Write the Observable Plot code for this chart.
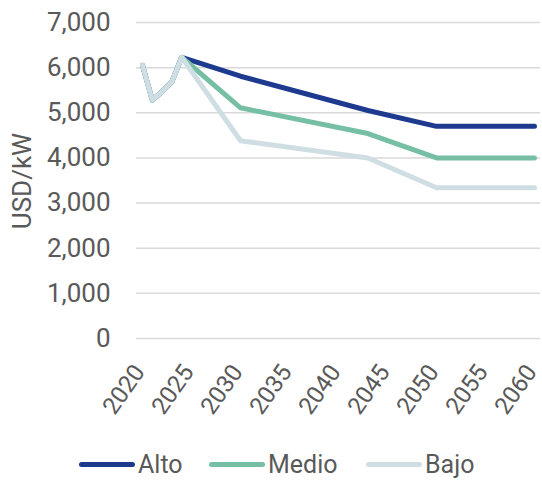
<!DOCTYPE html>
<html><head><meta charset="utf-8">
<script src="https://cdn.jsdelivr.net/npm/d3@7"></script>
<script src="https://cdn.jsdelivr.net/npm/@observablehq/plot@0.6"></script>
<style>
body{margin:0;background:#fff;font-family:Roboto,sans-serif;}
#legend{position:relative;height:40px;width:542px;font-size:25px;color:#595959;}
.item{position:absolute;top:0;height:40px;display:flex;align-items:center;white-space:nowrap;}
.sw{display:inline-block;width:56px;min-width:56px;height:5px;border-radius:3px;margin-right:3px;}
</style></head><body>
<div id="chart"></div><div id="legend"></div>
<script>
const years = [2020, 2021, 2022, 2023, 2024, 2030, 2043, 2050, 2060];
const alto  = [6050, 5280, 5470, 5690, 6230, 5810, 5050, 4700, 4700];
const medio = [6050, 5280, 5470, 5690, 6230, 5110, 4540, 4000, 4000];
const bajo  = [6050, 5280, 5470, 5690, 6230, 4380, 4000, 3340, 3340];
const series = ["Alto", "Medio", "Bajo"];
const colors = ["#1d3a8f", "#76bfa5", "#cfdee3"];
const yTicks = [0, 1000, 2000, 3000, 4000, 5000, 6000, 7000];
const xTicks = [2020, 2025, 2030, 2035, 2040, 2045, 2050, 2055, 2060];
const yTitle = "USD/kW";

const values = [alto, medio, bajo];
const data = series.flatMap((s, i) => years.map((y, j) => ({serie: s, year: y, value: values[i][j]})));

const plot = Plot.plot({
  width: 542, height: 444,
  marginLeft: 142, marginRight: 8, marginTop: 22, marginBottom: 106,
  style: {fontFamily: "Roboto", fontSize: "26px", color: "#595959", background: "#fff"},
  x: {domain: [2020, 2060]},
  y: {domain: [0, 7000]},
  color: {domain: series, range: colors},
  marks: [
    Plot.ruleY(yTicks, {stroke: "#d9d9d9", strokeWidth: 1.5, insetLeft: -6, insetRight: -6}),
    Plot.axisY(yTicks, {tickSize: 0, tickPadding: 32, tickFormat: d3.format(","), label: null}),
    Plot.axisX(xTicks, {tickSize: 0, tickPadding: 29, dx: -3, tickRotate: -55, fontSize: 24, tickFormat: d => String(d), label: null}),
    Plot.line(data, {x: "year", y: "value", z: "serie", stroke: "serie", strokeWidth: 5, strokeLinejoin: "round", strokeLinecap: "round"})
  ]
});
document.getElementById("chart").appendChild(plot);
d3.select(plot).append("text")
  .attr("transform", "translate(22,181) rotate(-90)")
  .attr("text-anchor", "middle")
  .attr("dominant-baseline", "central")
  .attr("fill", "#595959")
  .style("font-size", "26px")
  .text(yTitle);

const legendLeft = [79, 209, 366];
const legend = d3.select("#legend");
series.forEach((s, i) => {
  const it = legend.append("div").attr("class", "item").style("left", legendLeft[i] + "px");
  it.append("span").attr("class", "sw").style("background", colors[i]);
  it.append("span").text(s);
});
</script>
</body></html>
